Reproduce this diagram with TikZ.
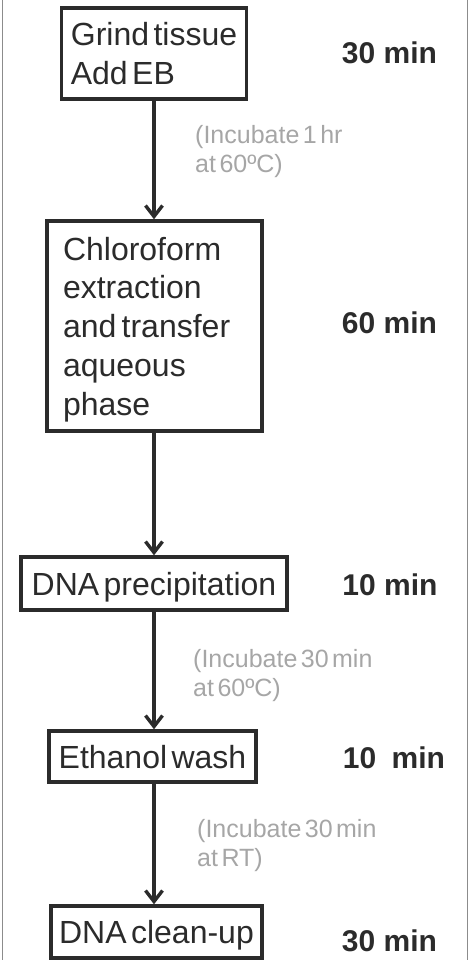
\documentclass[tikz,border=0pt]{standalone}
\usepackage{fontspec}
\setmainfont{Liberation Sans}[WordSpace=0.5]
\newfontfamily\durfont{Liberation Sans}
\usetikzlibrary{arrows.meta, positioning}
\definecolor{ink}{HTML}{2B2B2B}
\definecolor{notegray}{HTML}{A6A6A6}
\definecolor{framegray}{HTML}{8C8C8C}

\begin{document}
\begin{tikzpicture}[
    x=1pt, y=-1pt,
    stage/.style={
        rectangle, draw=ink, line width=3.4pt,
        text=ink, font=\fontsize{32}{38.75}\selectfont,
        align=left, inner sep=0pt
    },
    flow/.style={-{Straight Barb[length=11pt, width=17pt]}, draw=ink, line width=3.4pt},
    note/.style={text=notegray, font=\fontsize{25}{29}\selectfont, align=left, anchor=west, inner sep=0pt},
    duration/.style={text=ink, font=\durfont\fontsize{30}{36}\selectfont\bfseries, inner sep=0pt},
]
\useasboundingbox (0,0) rectangle (469,960);

% Rahmen
\draw[framegray, line width=1pt] (2.3,0) -- (2.3,960);
\draw[framegray, line width=1pt] (467.5,0) -- (467.5,960);

% Schritte
\node[stage, minimum width=185pt, minimum height=91pt, xshift=2pt] (grind) at (152,53.5)
    {Grind tissue\\Add EB};
\node[stage, text width=183pt, inner xsep=16pt, minimum height=210pt, text depth=155pt] (chloro) at (154.5,326)
    {Chloroform\\extraction\\and\,transfer\\aqueous\\phase};
\node[stage, minimum width=266pt, minimum height=53pt, text depth=0pt] (precip) at (154,583.5)
    {DNA precipitation};
\node[stage, minimum width=207pt, minimum height=51pt, text depth=0pt] (wash) at (152.5,756.5)
    {Ethanol wash};
\node[stage, minimum width=211pt, minimum height=52pt, text depth=0pt] (clean) at (156.5,932)
    {DNA clean-up};

% Pfeile
\draw[flow] (grind.south) -- (grind.south |- chloro.north);
\draw[flow] (chloro.south -| grind.south) -- (precip.north -| grind.south);
\draw[flow] (precip.south -| grind.south) -- (wash.north -| grind.south);
\draw[flow] (wash.south -| grind.south) -- (clean.north -| grind.south);

% Inkubation
\node[note] (inc1) at (195,152) {(Incubate 1 hr\\at 60ºC)};
\node[note] (inc2) at (193,676) {(Incubate 30 min\\at 60ºC)};
\node[note] (inc3) at (197,846) {(Incubate 30 min\\at RT)};

% Zeiten
\node[duration] (t1) at (389.5,53)    {30 min};
\node[duration] (t2) at (389.5,322.5) {60 min};
\node[duration] (t3) at (390,585)     {10 min};
\node[duration] (t4) at (394,758)     {10\hspace{7pt} min};
\node[duration] (t5) at (389.5,941)   {30 min};

\end{tikzpicture}
\end{document}
